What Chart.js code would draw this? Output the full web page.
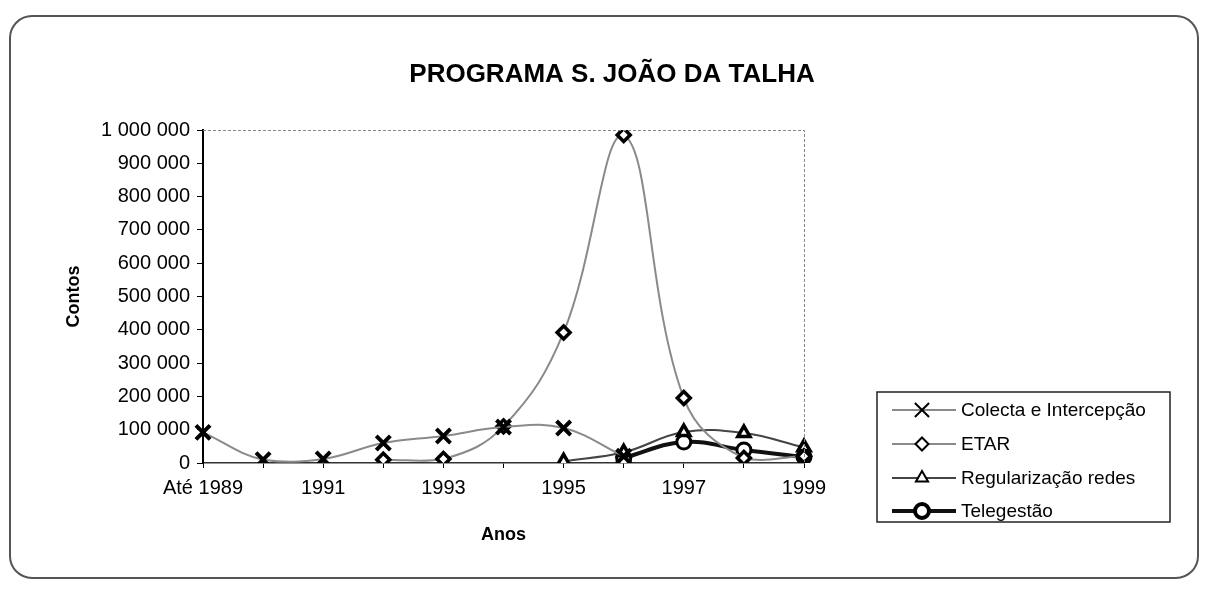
<!DOCTYPE html>
<html>
<head>
<meta charset="utf-8">
<script src="https://cdn.jsdelivr.net/npm/chart.js@4/dist/chart.umd.min.js"></script>
<style>
  html, body { margin: 0; padding: 0; background: #fff; }
  #wrap { width: 1208px; height: 590px; position: relative; }
</style>
</head>
<body>
<div id="wrap"><canvas id="c" width="1208" height="590"></canvas></div>
<script>
// ---- data ----
const categories = ['Até 1989', '1990', '1991', '1992', '1993', '1994', '1995', '1996', '1997', '1998', '1999'];
const colecta = [92000, 10000, 12000, 60000, 81000, 108000, 105000, 20000, null, null, null];
const etar = [null, null, null, 10000, 12000, 110000, 392000, 985000, 195000, 15000, 20000];
const regularizacao = [null, null, null, null, null, null, 5000, 32000, 93000, 90000, 47000];
const telegestao = [null, null, null, null, null, null, null, 15000, 63000, 39000, 18000];
const seriesNames = ['Colecta e Intercepção', 'ETAR', 'Regularização redes', 'Telegestão'];
const yTicks = [0, 100000, 200000, 300000, 400000, 500000, 600000, 700000, 800000, 900000, 1000000];
const chartTitle = 'PROGRAMA S. JOÃO DA TALHA';

const fmt = v => String(v).replace(/\B(?=(\d{3})+(?!\d))/g, ' ');

const frame = {
  id: 'frame',
  beforeDraw(chart) {
    const ctx = chart.ctx;
    ctx.save();
    ctx.strokeStyle = '#555';
    ctx.lineWidth = 2;
    ctx.beginPath();
    if (ctx.roundRect) ctx.roundRect(10, 16, 1188, 562, 22); else ctx.rect(10, 16, 1188, 562);
    ctx.stroke();
    // title
    ctx.fillStyle = '#000';
    ctx.font = 'bold 26px "Liberation Sans", Arial, sans-serif';
    ctx.textAlign = 'center';
    ctx.textBaseline = 'middle';
    ctx.fillText(chartTitle, 612, 75);
    ctx.restore();
  },
  afterDraw(chart) {
    const ctx = chart.ctx;
    const a = chart.chartArea;
    ctx.save();
    // dotted plot border top & right
    ctx.strokeStyle = '#888';
    ctx.lineWidth = 1;
    ctx.setLineDash([3, 2]);
    ctx.beginPath();
    ctx.moveTo(a.left, a.top + 0.5);
    ctx.lineTo(a.right + 0.5, a.top + 0.5);
    ctx.lineTo(a.right + 0.5, a.bottom);
    ctx.stroke();
    ctx.setLineDash([]);
    // legend box
    const lx = 877, ly = 392, lw = 293, lh = 130;
    ctx.strokeStyle = '#222';
    ctx.lineWidth = 1.5;
    ctx.strokeRect(lx, ly, lw, lh);
    const rows = [410, 444, 478, 511];
    chart.data.datasets.forEach((ds, i) => {
      const y = rows[i];
      ctx.strokeStyle = ds.borderColor;
      ctx.lineWidth = ds.borderWidth;
      ctx.beginPath();
      ctx.moveTo(892, y);
      ctx.lineTo(956, y);
      ctx.stroke();
      ctx.strokeStyle = ds.pointBorderColor;
      ctx.fillStyle = ds.pointBackgroundColor;
      Chart.helpers.drawPoint(ctx, {
        pointStyle: ds.pointStyle, radius: ds.pointRadius, rotation: 0,
        borderWidth: ds.pointBorderWidth
      }, 922, y);
      ctx.fillStyle = '#000';
      ctx.font = '19px "Liberation Sans", Arial, sans-serif';
      ctx.textBaseline = 'middle';
      ctx.textAlign = 'left';
      ctx.fillText(ds.label, 961, y + 1);
    });
    ctx.restore();
  }
};

new Chart(document.getElementById('c'), {
  type: 'line',
  data: {
    labels: categories,
    datasets: [
      { label: seriesNames[0], data: colecta, borderColor: '#8a8a8a', borderWidth: 2,
        pointStyle: 'crossRot', pointRadius: 10, pointBorderWidth: 4,
        pointBorderColor: '#000', pointBackgroundColor: '#000', tension: 0.4 },
      { label: seriesNames[1], data: etar, borderColor: '#8a8a8a', borderWidth: 2,
        pointStyle: 'rectRot', pointRadius: 6.5, pointBorderWidth: 3.5,
        pointBorderColor: '#000', pointBackgroundColor: '#fff', tension: 0.4 },
      { label: seriesNames[2], data: regularizacao, borderColor: '#444', borderWidth: 2,
        pointStyle: 'triangle', pointRadius: 7, pointBorderWidth: 3.5,
        pointBorderColor: '#000', pointBackgroundColor: '#fff', tension: 0.4 },
      { label: seriesNames[3], data: telegestao, borderColor: '#111', borderWidth: 4,
        pointStyle: 'circle', pointRadius: 7, pointBorderWidth: 3,
        pointBorderColor: '#000', pointBackgroundColor: '#fff', tension: 0.4 }
    ]
  },
  options: {
    responsive: false,
    animation: false,
    devicePixelRatio: 1,
    layout: { padding: { left: 0, right: 404, top: 130, bottom: 0 } },
    plugins: {
      legend: { display: false },
      tooltip: { enabled: false },
      title: { display: false }
    },
    scales: {
      x: {
        offset: false,
        afterFit: s => { s.height = 127; },
        grid: { drawOnChartArea: false, tickLength: 5, color: '#000' },
        border: { color: '#333', width: 1.5 },
        ticks: {
          autoSkip: false, maxRotation: 0, padding: 8, color: '#000',
          font: { family: '"Liberation Sans", Arial, sans-serif', size: 20 },
          callback: function (v, i) { return i % 2 === 0 ? categories[i] : ''; }
        },
        title: {
          display: true, text: 'Anos', color: '#000',
          font: { family: '"Liberation Sans", Arial, sans-serif', size: 18, weight: 'bold' },
          padding: { top: 0, bottom: 44 }
        }
      },
      y: {
        min: 0, max: 1000000,
        afterFit: s => { s.width = 203; },
        afterBuildTicks: s => { s.ticks = yTicks.map(v => ({ value: v })); },
        grid: { drawOnChartArea: false, tickLength: 6, color: '#000' },
        border: { color: '#000', width: 2 },
        ticks: {
          padding: 7, color: '#000',
          font: { family: '"Liberation Sans", Arial, sans-serif', size: 20 },
          callback: v => fmt(v)
        },
        title: {
          display: true, text: 'Contos', color: '#000',
          font: { family: '"Liberation Sans", Arial, sans-serif', size: 18, weight: 'bold' },
          padding: { top: 63, bottom: 0 }
        }
      }
    }
  },
  plugins: [frame]
});
</script>
</body>
</html>
